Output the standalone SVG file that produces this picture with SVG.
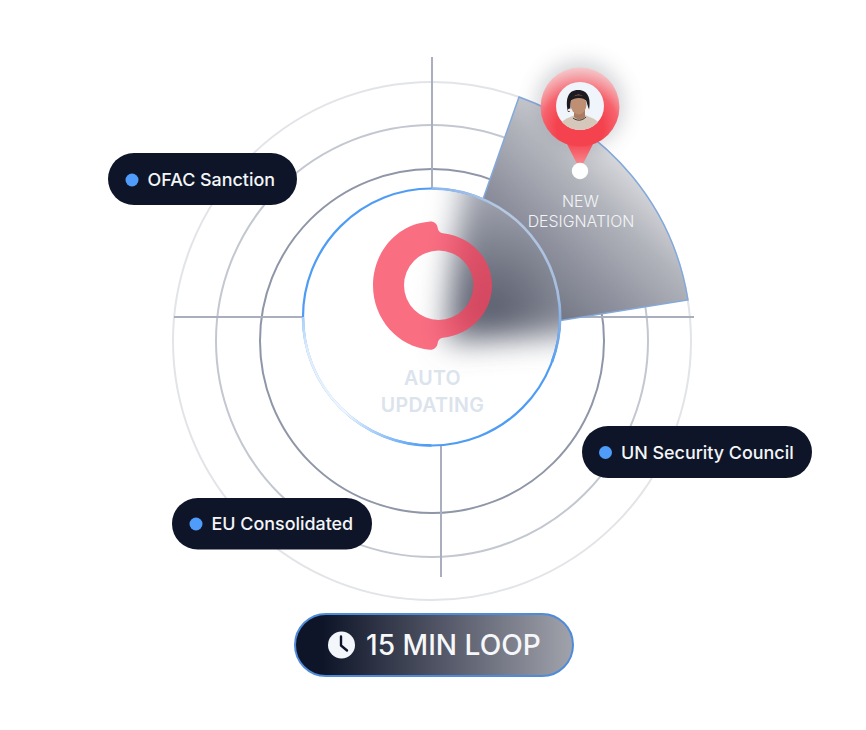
<svg xmlns="http://www.w3.org/2000/svg" width="866" height="730" viewBox="0 0 866 730">
<style>
text{font-family:"Inter","Liberation Sans",sans-serif}
.ring{fill:none;stroke-width:2}
.spoke{stroke:#a9afbc;stroke-width:2;fill:none}
.pill{fill:#0e1528}
.dot{fill:#4f9cfb}
.lbl{fill:#f3f5f8;font-size:17.9px;font-weight:500}
.new{fill:#f2f3f5;font-size:15.9px;font-weight:300;text-anchor:middle}
.auto{fill:#dbe3ed;font-size:19.6px;font-weight:600;text-anchor:middle;letter-spacing:.3px}
</style>
<defs>
<linearGradient id="wg" gradientUnits="userSpaceOnUse" x1="500" y1="320" x2="640" y2="170">
<stop offset="0" stop-color="#5e6271"/><stop offset=".45" stop-color="#8f929e"/><stop offset=".75" stop-color="#b2b4bc"/><stop offset="1" stop-color="#dcdde0"/>
</linearGradient>
<radialGradient id="sh" gradientUnits="userSpaceOnUse" cx="490" cy="312" r="125">
<stop offset="0" stop-color="#565a6a"/><stop offset=".5" stop-color="#7c808d"/><stop offset="1" stop-color="#a4a7b2"/>
</radialGradient>
<radialGradient id="pin" gradientUnits="userSpaceOnUse" cx="580" cy="128" r="62">
<stop offset=".38" stop-color="#f4434f"/><stop offset=".62" stop-color="#f6636d"/><stop offset="1" stop-color="#fcc9cb" stop-opacity=".75"/>
</radialGradient>
<linearGradient id="tail" x1="0" y1="0" x2="0" y2="1">
<stop offset="0" stop-color="#f4434f"/><stop offset="1" stop-color="#f98d94"/>
</linearGradient>
<linearGradient id="loop" x1="0" y1="0" x2="1" y2="0">
<stop offset=".1" stop-color="#0e1528"/><stop offset=".55" stop-color="#565a6a"/><stop offset="1" stop-color="#a1a3ac"/>
</linearGradient>
<linearGradient id="fade1" gradientUnits="userSpaceOnUse" x1="303" y1="300" x2="425" y2="446">
<stop offset="0" stop-color="#8fbff6"/><stop offset=".2" stop-color="#dcebfc"/><stop offset=".6" stop-color="#f0f6fe"/><stop offset="1" stop-color="#4f9cf5"/>
</linearGradient>
<linearGradient id="fade2" gradientUnits="userSpaceOnUse" x1="450" y1="188" x2="552" y2="370">
<stop offset="0" stop-color="#8fb8ec"/><stop offset=".2" stop-color="#bcc9dd"/><stop offset=".7" stop-color="#a9bddb"/><stop offset="1" stop-color="#4f9cf5"/>
</linearGradient>
<filter id="b14" x="-40%" y="-40%" width="180%" height="180%"><feGaussianBlur stdDeviation="15"/></filter>
<filter id="b8" x="-40%" y="-40%" width="180%" height="180%"><feGaussianBlur stdDeviation="10"/></filter>
<clipPath id="inner"><circle cx="431.5" cy="317" r="128"/></clipPath>
<clipPath id="face"><circle cx="580" cy="106" r="24"/></clipPath>
</defs>

<g id="connectors">
<circle class="ring" cx="432" cy="341" r="259" stroke="#e2e4e8"/>
<circle class="ring" cx="432" cy="341" r="216" stroke="#c3c7d0"/>
<circle class="ring" cx="432" cy="341" r="172" stroke="#8f96a7"/>
<path class="spoke" d="M432 57V190M174 317H304M560 317H694M441 444V577"/>
</g>

<g id="wedge">
<path d="M519 97A259 259 0 0 1 688 300L433 341Z" fill="url(#wg)" stroke="#83a9dc" stroke-width="1.5"/>
<text class="new" x="580.500" y="207">NEW</text>
<text class="new" x="581" y="227">DESIGNATION</text>
</g>

<g id="auto-updating">
<circle cx="431.500" cy="317" r="128.500" fill="#fff"/>
<g clip-path="url(#inner)">
<path d="M468 150H620V332L446 342L451 270Z" fill="url(#sh)" filter="url(#b14)"/>
</g>
<circle cx="431.500" cy="317" r="128.500" fill="none" stroke="#4f9cf5" stroke-width="2.200"/>
<path d="M303 317A128.500 128.500 0 0 0 431.500 445.500" fill="none" stroke="url(#fade1)" stroke-width="2.600"/>
<path d="M431.500 188.500A128.500 128.500 0 0 1 552 362" fill="none" stroke="url(#fade2)" stroke-width="2.600"/>
<path d="M429 221.700C434 221 437 224 437.500 227C438 231 440 233 443 233.200C470 236 492 258 492 285.500C492 313 470 335 443 337.800C440 338 438 340 437.500 344C437 347 434 350 430 349.800C398 347 373 319 373 285.500C373 252 397 224 429 221.700ZM438.700 250.500A34.700 34.700 0 1 0 438.700 319.900A34.700 34.700 0 1 0 438.700 250.500Z" fill="#f9405b" fill-rule="evenodd" opacity=".76"/>
<text class="auto" x="432.500" y="385">AUTO</text>
<text class="auto" x="432.500" y="412">UPDATING</text>
</g>

<g id="pin-new-designation">
<circle cx="580" cy="105" r="44" fill="#6a6e7a" opacity=".3" filter="url(#b8)"/>
<path d="M566 142L578 166H582L594 142Z" fill="url(#tail)"/>
<circle cx="580" cy="107" r="39.500" fill="url(#pin)"/>
<circle cx="580" cy="106" r="24" fill="#eff5fa"/>
<g clip-path="url(#face)">
<path d="M556 131C560 120 568 118 575 115H585C592 118 600 120 604 131Z" fill="#d5c8ba"/>
<path d="M574 110H585V117C582 120 577 120 574 117Z" fill="#ab7c62"/>
<path d="M568 112C565 99 568 90 578 90C589 90 591 100 589 110L586 100L571 100L570 112Z" fill="#1d1a20"/>
<ellipse cx="578.500" cy="104.500" rx="8" ry="10" fill="#bf8f74"/>
<path d="M570 101C571 94 586 93 587 101C583 97 575 97 570 101Z" fill="#1d1a20"/>
<circle cx="569.500" cy="110" r="1.600" fill="#f4efe8"/>
<circle cx="588" cy="110" r="1.600" fill="#f4efe8"/>
<path d="M573 118C577 121 582 121 586 117" fill="none" stroke="#3a3130" stroke-width="1"/>
</g>
<circle cx="580" cy="171" r="8.200" fill="#fff"/>
</g>

<g id="ofac-sanction">
<rect class="pill" x="108" y="153" width="189" height="52" rx="26"/>
<circle class="dot" cx="132" cy="180" r="6.500"/>
<text class="lbl" x="147.500" y="186">OFAC Sanction</text>
</g>
<g id="un-security-council">
<rect class="pill" x="582" y="426" width="230" height="52" rx="26"/>
<circle class="dot" cx="605.500" cy="452.500" r="6.500"/>
<text class="lbl" x="621" y="459">UN Security Council</text>
</g>
<g id="eu-consolidated">
<rect class="pill" x="172" y="498" width="200" height="51.500" rx="25.700"/>
<circle class="dot" cx="196" cy="524" r="6.500"/>
<text class="lbl" x="211.500" y="530">EU Consolidated</text>
</g>

<g id="loop-15-min">
<rect x="295" y="614" width="278" height="62" rx="31" fill="url(#loop)" stroke="#4f8bd8" stroke-width="2"/>
<circle cx="341.500" cy="645" r="13.500" fill="#f3f6fa"/>
<path d="M341 636.500V645.500L347 650.500" fill="none" stroke="#0e1528" stroke-width="2.400" stroke-linecap="round" stroke-linejoin="round"/>
<text x="366" y="655" fill="#f6f7f9" font-size="28.100" font-weight="500">15 MIN LOOP</text>
</g>
</svg>
